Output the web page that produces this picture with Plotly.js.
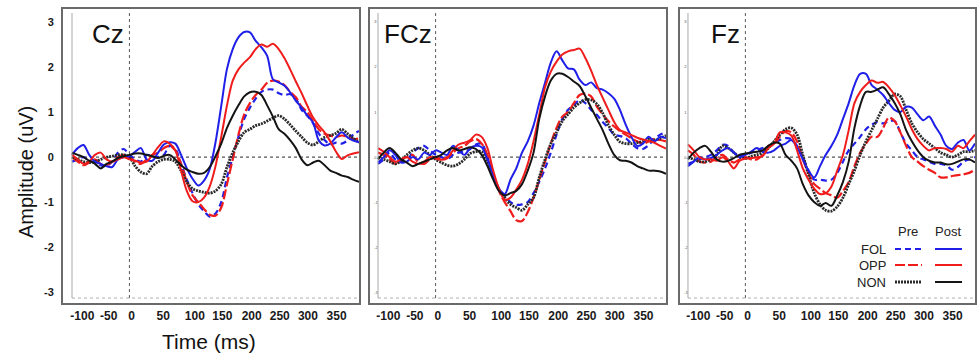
<!DOCTYPE html>
<html><head><meta charset="utf-8">
<script src="https://cdn.plot.ly/plotly-3.0.1.min.js"></script>
<style>html,body{margin:0;padding:0;background:#fff;}#chart{width:977px;height:354px;}</style>
</head><body><div id="chart"></div>
<script>
// ---- data ----
const timeMs = [-100,-90,-80,-70,-60,-50,-40,-30,-20,-10,0,10,20,30,40,50,60,70,80,90,100,110,120,130,140,150,160,170,180,190,200,210,220,230,240,250,260,270,280,290,300,310,320,330,340,350,360,370,380,390,400];

const czFolPost = [0.05,0.2,0.27,0.05,-0.1,-0.15,-0.2,-0.22,-0.05,0.0,0.02,0.12,0.2,-0.05,-0.08,0.1,0.28,0.33,0.3,0.05,-0.25,-0.48,-0.63,-0.52,-0.26,0.33,1.14,1.96,2.4,2.66,2.78,2.77,2.58,2.44,2.25,1.73,1.66,1.59,1.44,1.25,1.1,0.92,0.77,0.37,0.26,0.3,0.44,0.55,0.44,0.37,0.33];
const czFolPre = [-0.1,-0.05,0.0,-0.08,-0.12,-0.18,-0.2,-0.1,0.1,0.18,0.05,-0.05,-0.1,0.05,0.02,0.0,0.05,0.25,0.18,-0.15,-0.5,-0.8,-1.05,-1.2,-1.32,-1.25,-1.0,-0.45,0.0,0.45,0.85,1.1,1.3,1.45,1.5,1.5,1.42,1.38,1.4,1.3,1.05,0.92,0.75,0.52,0.38,0.28,0.32,0.3,0.37,0.5,0.58];
const czOppPost = [0.05,-0.05,-0.15,-0.1,0.05,0.1,-0.05,-0.1,-0.05,0.0,-0.05,-0.08,-0.12,-0.1,0.05,0.22,0.35,0.3,0.15,-0.3,-0.75,-0.98,-1.0,-0.9,-0.65,-0.2,0.45,1.15,1.7,1.95,2.1,2.22,2.4,2.5,2.45,2.52,2.4,2.2,1.95,1.68,1.42,1.14,0.88,0.7,0.55,0.35,0.12,-0.04,0.04,0.08,0.11];
const czOppPre = [0.0,-0.1,-0.18,-0.12,-0.05,-0.15,-0.18,-0.1,0.0,0.05,0.0,-0.1,-0.15,-0.05,0.05,0.1,0.2,0.25,0.15,-0.15,-0.55,-0.85,-1.0,-1.15,-1.28,-1.3,-1.12,-0.6,-0.05,0.5,0.95,1.2,1.38,1.5,1.65,1.7,1.68,1.6,1.45,1.33,1.12,1.0,0.8,0.62,0.52,0.48,0.45,0.48,0.45,0.4,0.42];
const czNonPost = [0.1,0.05,0.0,-0.08,-0.15,-0.25,-0.15,-0.1,-0.02,0.02,0.05,0.08,0.08,0.05,0.02,-0.02,0.03,0.05,-0.05,-0.18,-0.28,-0.33,-0.37,-0.35,-0.22,0.02,0.3,0.65,0.92,1.15,1.35,1.44,1.45,1.38,1.15,0.9,0.62,0.52,0.38,0.2,-0.05,-0.18,-0.12,-0.08,-0.18,-0.3,-0.35,-0.41,-0.44,-0.5,-0.55];
const czNonPre = [0.0,-0.05,-0.1,-0.12,-0.1,-0.05,0.0,0.02,0.05,0.05,0.0,-0.2,-0.33,-0.37,-0.2,-0.1,-0.05,-0.05,-0.1,-0.3,-0.55,-0.7,-0.75,-0.78,-0.8,-0.75,-0.6,-0.22,0.1,0.35,0.55,0.62,0.7,0.74,0.8,0.87,0.92,0.85,0.72,0.58,0.45,0.32,0.27,0.35,0.44,0.48,0.53,0.62,0.52,0.42,0.33];

const fczFolPost = [-0.12,0.0,0.15,0.05,-0.12,-0.1,0.0,-0.05,0.1,0.05,0.15,0.1,0.05,0.25,0.15,0.05,0.2,0.25,0.22,-0.05,-0.4,-0.7,-0.82,-0.5,-0.25,0.1,0.35,0.7,1.2,1.65,2.1,2.35,2.15,1.97,1.95,1.72,1.6,1.66,1.53,1.5,1.42,1.3,1.05,0.72,0.45,0.25,0.3,0.45,0.35,0.45,0.42];
const fczFolPre = [-0.15,-0.05,0.1,-0.05,-0.1,-0.08,0.1,0.2,0.25,0.15,0.05,0.0,-0.05,0.05,0.1,0.12,0.18,0.28,0.3,0.0,-0.4,-0.7,-0.85,-1.0,-1.06,-1.05,-1.0,-0.8,-0.55,-0.25,0.1,0.5,0.85,1.05,1.15,1.27,1.2,1.05,0.94,0.78,0.65,0.5,0.47,0.42,0.3,0.2,0.18,0.27,0.4,0.5,0.55];
const fczOppPost = [0.2,0.12,0.0,-0.1,-0.05,0.0,-0.1,-0.15,-0.1,0.0,-0.03,-0.06,-0.03,0.15,0.28,0.32,0.38,0.5,0.45,0.2,-0.3,-0.7,-0.95,-0.9,-0.72,-0.5,-0.15,0.35,0.95,1.55,1.9,2.12,2.28,2.35,2.38,2.41,2.2,1.92,1.6,1.32,1.05,0.78,0.6,0.55,0.49,0.43,0.39,0.36,0.32,0.25,0.19];
const fczOppPre = [0.1,0.05,-0.05,-0.15,-0.05,0.0,0.05,-0.12,-0.15,-0.05,0.0,-0.05,0.0,0.1,0.2,0.25,0.35,0.4,0.3,0.05,-0.35,-0.75,-1.0,-1.2,-1.4,-1.42,-1.22,-0.9,-0.5,-0.1,0.3,0.65,0.9,1.0,1.2,1.38,1.41,1.35,1.12,0.95,0.8,0.68,0.58,0.5,0.42,0.35,0.3,0.35,0.4,0.38,0.35];
const fczNonPost = [-0.05,0.1,0.2,0.1,-0.05,-0.12,-0.2,-0.15,-0.1,-0.05,0.0,0.05,0.15,0.2,0.15,0.18,0.22,0.18,0.05,-0.2,-0.5,-0.75,-0.85,-0.8,-0.75,-0.6,-0.3,0.1,0.85,1.35,1.7,1.85,1.85,1.78,1.68,1.58,1.35,1.1,0.85,0.6,0.3,0.05,-0.07,-0.08,-0.12,-0.2,-0.25,-0.3,-0.3,-0.32,-0.37];
const fczNonPre = [0.0,-0.05,-0.1,-0.15,-0.08,0.05,0.15,0.2,0.15,0.05,-0.05,-0.12,-0.18,-0.2,-0.15,-0.05,0.08,0.12,0.12,-0.1,-0.4,-0.72,-0.9,-1.05,-1.12,-1.18,-1.05,-0.9,-0.45,-0.05,0.3,0.55,0.8,0.95,1.1,1.2,1.28,1.27,1.18,0.98,0.71,0.5,0.34,0.3,0.3,0.32,0.35,0.4,0.38,0.42,0.48];

const fzFolPost = [-0.2,-0.1,0.0,-0.05,-0.02,0.05,0.15,0.2,0.1,0.0,0.05,0.12,0.2,0.12,0.1,0.15,0.25,0.3,0.38,0.22,-0.05,-0.3,-0.45,-0.2,0.05,0.25,0.5,0.85,1.2,1.6,1.85,1.85,1.6,1.5,1.38,1.2,1.05,1.0,1.12,1.1,0.95,0.82,0.9,0.7,0.5,0.25,0.18,0.32,0.38,0.15,0.3];
const fzFolPre = [-0.15,-0.1,-0.05,0.0,0.05,0.15,0.27,0.25,0.1,0.05,0.05,0.1,0.15,0.2,0.22,0.3,0.38,0.42,0.4,0.25,0.0,-0.3,-0.5,-0.5,-0.52,-0.5,-0.35,-0.1,0.15,0.3,0.45,0.62,0.72,0.78,0.75,0.8,0.8,0.55,0.3,0.15,0.0,-0.05,-0.1,-0.15,-0.15,-0.18,-0.28,-0.22,-0.1,-0.05,0.0];
const fzOppPost = [0.28,0.15,0.0,-0.05,-0.05,-0.08,0.0,-0.1,-0.25,-0.08,-0.03,-0.02,0.0,0.02,0.2,0.3,0.55,0.55,0.48,0.15,-0.25,-0.5,-0.7,-0.82,-0.8,-0.65,-0.3,0.05,0.6,1.2,1.45,1.6,1.7,1.65,1.67,1.55,1.38,1.15,0.9,0.62,0.4,0.25,0.15,0.2,0.2,0.18,0.12,0.25,0.2,0.35,0.5];
const fzOppPre = [0.15,0.05,-0.1,-0.12,-0.1,0.0,0.05,-0.05,-0.12,-0.05,0.0,-0.05,-0.05,0.05,0.25,0.3,0.45,0.58,0.55,0.35,-0.05,-0.35,-0.6,-0.7,-0.8,-0.85,-0.9,-0.75,-0.55,-0.2,0.1,0.3,0.45,0.45,0.65,0.88,0.8,0.55,0.25,0.0,-0.1,-0.2,-0.28,-0.35,-0.45,-0.45,-0.42,-0.4,-0.38,-0.35,-0.28];
const fzNonPost = [-0.05,0.1,0.2,0.25,0.12,-0.05,-0.1,-0.08,-0.02,0.05,0.08,0.1,0.12,0.15,0.25,0.32,0.3,0.05,-0.08,-0.25,-0.6,-0.85,-1.0,-1.08,-1.02,-1.08,-0.85,-0.55,-0.1,0.65,1.15,1.45,1.45,1.5,1.55,1.4,1.2,0.95,0.6,0.35,0.15,0.0,-0.08,-0.12,-0.12,-0.16,-0.15,-0.1,-0.05,-0.05,-0.12];
const fzNonPre = [0.0,-0.05,-0.1,-0.1,-0.05,0.05,0.25,0.2,0.1,0.0,-0.03,0.02,0.05,0.1,0.2,0.35,0.5,0.62,0.65,0.5,0.05,-0.4,-0.8,-1.05,-1.18,-1.2,-1.1,-0.9,-0.6,-0.3,0.05,0.35,0.6,0.85,1.1,1.25,1.4,1.35,1.05,0.75,0.55,0.4,0.3,0.2,0.1,0.05,0.0,0.05,0.12,0.12,0.15];

const channelNames = ['Cz','FCz','Fz'];
const groupNames = ['FOL','OPP','NON'];
const xTickText = ['-100','-50','0','50','100','150','200','250','300','350'];
const yTickVals = [-3,-2,-1,0,1,2,3];

// ---- styling ----
const F = 'Liberation Sans, Arial, sans-serif';
const BLUE = '#1f1fe8', RED = '#f01c1c', BLACK = '#141414';
const styles = {
  FOL: {pre:{color:BLUE, dash:'6px,4px', width:2.2}, post:{color:BLUE, dash:'solid', width:2}},
  OPP: {pre:{color:RED, dash:'10px,3px', width:2.2}, post:{color:RED, dash:'solid', width:2}},
  NON: {pre:{color:'#2a2a2a', dash:'2px,1px', width:2.8}, post:{color:BLACK, dash:'solid', width:2}}
};
const panelData = [
  {FOL:[czFolPre,czFolPost], OPP:[czOppPre,czOppPost], NON:[czNonPre,czNonPost]},
  {FOL:[fczFolPre,fczFolPost], OPP:[fczOppPre,fczOppPost], NON:[fczNonPre,fczNonPost]},
  {FOL:[fzFolPre,fzFolPost], OPP:[fzOppPre,fzOppPost], NON:[fzNonPre,fzNonPost]}
];
// label positions (labels sit slightly right of their value in the original figure)
const xTickPos = [-82,-36,4,59,114,162,213,262,311,361];

const W = 977, H = 354;
const px = v => v / W, py = v => 1 - v / H;
const frames = [[63,359,-115.7],[370,666,-113.9],[680,975,-113.9]];
const yDom = [py(303), py(9)];
const yRange = [-3.24, 3.29];
const bold = s => '<b>' + s + '</b>';

const traces = [];
const layout = {
  width: W, height: H, margin:{l:0,r:0,t:0,b:0},
  paper_bgcolor:'#fff', plot_bgcolor:'#fff', showlegend:false,
  font:{family:F, color:'#222'},
  shapes:[], annotations:[]
};

channelNames.forEach((ch, i) => {
  const sx = i === 0 ? '' : String(i+1);
  const xa = 'x' + sx, ya = 'y' + sx;
  ['Pre','Post'].forEach((phase, k) => {
    groupNames.forEach(g => {
      const st = styles[g][k === 0 ? 'pre' : 'post'];
      traces.push({
        x: timeMs, y: panelData[i][g][k], type:'scatter', mode:'lines',
        name: g + ' ' + phase, xaxis: xa, yaxis: ya,
        line:{color:st.color, dash:st.dash, width:st.width, shape:'spline', smoothing:0.9},
        hoverinfo:'skip'
      });
    });
  });
  const fr = frames[i];
  layout['xaxis' + sx] = {
    domain:[px(fr[0]), px(fr[1])], range:[fr[2], 400], anchor: ya,
    showgrid:false, zeroline:false, showline:true, mirror:true,
    linecolor:'#6a6a6a', linewidth:2, ticks:'',
    tickmode:'array', tickvals:xTickPos, ticktext:xTickText.map(bold),
    tickfont:{family:F, size:12, color:'#1a1a1a'},
    ticklabelstandoff:1, fixedrange:true
  };
  layout['yaxis' + sx] = {
    domain:yDom, range:yRange, anchor: xa,
    showgrid:false, zeroline:false, showline:true, mirror:true,
    linecolor:'#6a6a6a', linewidth:2, ticks:'',
    tickmode:'array', tickvals:yTickVals,
    ticktext: i === 0 ? yTickVals.map(v => bold(String(v))) : yTickVals.map(String),
    tickfont: i === 0 ? {family:F, size:11, color:'#1a1a1a'} : {family:F, size:4, color:'#555'},
    ticklabelposition: i === 0 ? 'outside' : 'inside',
    ticklabelstandoff: i === 0 ? 5 : 2, fixedrange:true
  };
  // inner axis box lines
  layout.shapes.push({type:'line', xref:xa, yref:ya, x0:-100, x1:-100, y0:-3.13, y1:3.2, line:{color:'#a8a8a8', width:1}});
  layout.shapes.push({type:'line', xref:xa, yref:ya, x0:-100, x1:400, y0:-3.13, y1:-3.13, line:{color:'#b0b0b0', width:1, dash:'dot'}});
  // zero reference lines
  layout.shapes.push({type:'line', xref:xa, yref:ya, x0:0, x1:0, y0:-3.13, y1:3.2, line:{color:'#555', width:1, dash:'dot'}, layer:'below'});
  layout.shapes.push({type:'line', xref:xa, yref:ya, x0:-100, x1:400, y0:0, y1:0, line:{color:'#555', width:1.2, dash:'dot'}, layer:'below'});
  // channel label
  const titleRight = [126, 434, 742][i];
  layout.annotations.push({text:ch, xref:'paper', yref:'paper', x:px(titleRight), y:py(34), xanchor:'right', yanchor:'middle', showarrow:false, font:{family:F, size:26, color:'#111'}});
});

// axis titles
layout.annotations.push({text:'Amplitude (uV)', xref:'paper', yref:'paper', x:px(26), y:py(172), textangle:-90, xanchor:'center', yanchor:'middle', showarrow:false, font:{family:F, size:20, color:'#111'}});
layout.annotations.push({text:'Time (ms)', xref:'paper', yref:'paper', x:px(209), y:py(341), xanchor:'center', yanchor:'middle', showarrow:false, font:{family:F, size:21, color:'#111'}});

// custom legend
layout.annotations.push({text:'Pre', xref:'paper', yref:'paper', x:px(908), y:py(232), xanchor:'center', yanchor:'middle', showarrow:false, font:{family:F, size:13, color:'#222'}});
layout.annotations.push({text:'Post', xref:'paper', yref:'paper', x:px(948), y:py(232), xanchor:'center', yanchor:'middle', showarrow:false, font:{family:F, size:13, color:'#222'}});
const legY = [249, 265, 282];
groupNames.forEach((g, j) => {
  layout.annotations.push({text:g, xref:'paper', yref:'paper', x:px(888), y:py(legY[j]), xanchor:'right', yanchor:'middle', showarrow:false, font:{family:F, size:13, color:'#222'}});
  const pre = styles[g].pre, post = styles[g].post;
  layout.shapes.push({type:'line', xref:'paper', yref:'paper', x0:px(895), x1:px(922), y0:py(legY[j]), y1:py(legY[j]), line:{color:pre.color, width:pre.width, dash:pre.dash}});
  layout.shapes.push({type:'line', xref:'paper', yref:'paper', x0:px(935), x1:px(962), y0:py(legY[j]), y1:py(legY[j]), line:{color:post.color, width:post.width, dash:post.dash}});
});

Plotly.newPlot('chart', traces, layout, {displayModeBar:false, staticPlot:true});
</script>
</body></html>
